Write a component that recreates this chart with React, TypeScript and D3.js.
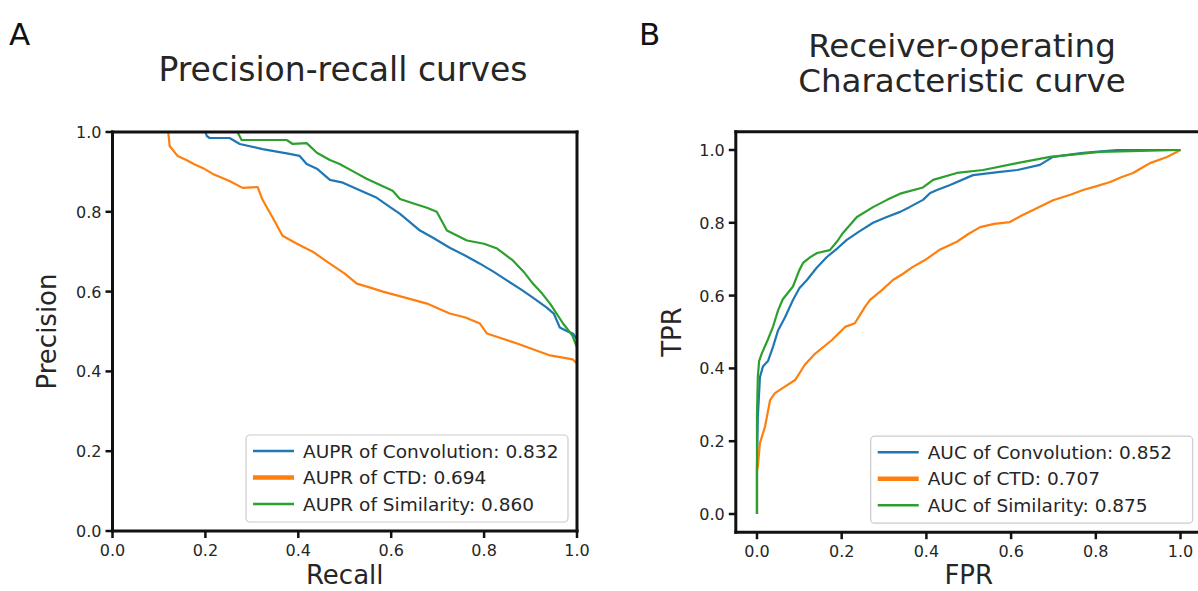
import React from "react";
import * as d3 from "d3";

// ---------- data ----------
const ticks = [0, 0.2, 0.4, 0.6, 0.8, 1.0];
const tickLabels = ["0.0", "0.2", "0.4", "0.6", "0.8", "1.0"];

const seriesNames = ["Convolution", "CTD", "Similarity"];
const seriesColors = ["#1f77b4", "#ff7f0e", "#2ca02c"];
const auprValues = ["0.832", "0.694", "0.860"];
const aucValues = ["0.852", "0.707", "0.875"];

// Precision-recall curves
const prRecallConv = [0.2, 0.203, 0.209, 0.252, 0.274, 0.323, 0.381, 0.403, 0.418, 0.44, 0.468, 0.496, 0.53, 0.569, 0.6, 0.619, 0.662, 0.69, 0.726, 0.76, 0.791, 0.82, 0.849, 0.88, 0.905, 0.935, 0.95, 0.963, 0.98, 0.991, 1.0];
const prPrecConv = [1.0, 0.99, 0.985, 0.985, 0.97, 0.957, 0.945, 0.94, 0.92, 0.908, 0.88, 0.873, 0.855, 0.835, 0.81, 0.795, 0.753, 0.735, 0.71, 0.69, 0.67, 0.65, 0.628, 0.605, 0.585, 0.56, 0.545, 0.51, 0.5, 0.495, 0.48];

const prRecallCTD = [0.12, 0.123, 0.14, 0.159, 0.175, 0.194, 0.216, 0.252, 0.28, 0.3125, 0.323, 0.345, 0.366, 0.397, 0.431, 0.468, 0.5, 0.526, 0.555, 0.582, 0.63, 0.677, 0.726, 0.76, 0.791, 0.806, 0.871, 0.942, 0.991, 1.0];
const prPrecCTD = [1.0, 0.965, 0.94, 0.93, 0.92, 0.91, 0.895, 0.877, 0.86, 0.862, 0.83, 0.785, 0.74, 0.72, 0.7, 0.67, 0.645, 0.62, 0.61, 0.6, 0.585, 0.57, 0.545, 0.535, 0.52, 0.495, 0.47, 0.44, 0.43, 0.42];

const prRecallSim = [0.269, 0.278, 0.33, 0.375, 0.388, 0.418, 0.44, 0.468, 0.489, 0.52, 0.547, 0.575, 0.603, 0.619, 0.65, 0.677, 0.698, 0.72, 0.763, 0.8, 0.828, 0.862, 0.885, 0.905, 0.925, 0.942, 0.97, 0.99, 1.0];
const prPrecSim = [1.0, 0.98, 0.98, 0.98, 0.97, 0.972, 0.948, 0.93, 0.92, 0.9, 0.883, 0.868, 0.853, 0.832, 0.82, 0.81, 0.8, 0.753, 0.728, 0.72, 0.708, 0.678, 0.65, 0.62, 0.595, 0.57, 0.52, 0.49, 0.46];

// ROC curves
const rocFprConv = [0, 0, 0.002, 0.007, 0.014, 0.026, 0.038, 0.05, 0.066, 0.085, 0.1, 0.118, 0.14, 0.165, 0.19, 0.212, 0.24, 0.274, 0.305, 0.338, 0.36, 0.392, 0.409, 0.425, 0.456, 0.51, 0.574, 0.615, 0.668, 0.699, 0.77, 0.85, 1.0];
const rocTprConv = [0, 0.13, 0.266, 0.376, 0.405, 0.42, 0.46, 0.505, 0.54, 0.588, 0.62, 0.643, 0.675, 0.706, 0.73, 0.753, 0.775, 0.8, 0.815, 0.83, 0.843, 0.863, 0.882, 0.89, 0.904, 0.931, 0.94, 0.945, 0.959, 0.981, 0.992, 1.0, 1.0];

const rocFprCTD = [0, 0, 0.002, 0.007, 0.019, 0.031, 0.0425, 0.066, 0.09, 0.113, 0.137, 0.177, 0.208, 0.231, 0.255, 0.267, 0.295, 0.321, 0.345, 0.368, 0.4, 0.43, 0.472, 0.5, 0.527, 0.56, 0.597, 0.625, 0.652, 0.699, 0.74, 0.77, 0.8, 0.834, 0.86, 0.888, 0.91, 0.928, 0.968, 1.0];
const rocTprCTD = [0, 0.12, 0.13, 0.195, 0.24, 0.313, 0.332, 0.35, 0.368, 0.41, 0.44, 0.478, 0.514, 0.524, 0.569, 0.588, 0.615, 0.643, 0.66, 0.679, 0.7, 0.725, 0.748, 0.77, 0.788, 0.797, 0.802, 0.82, 0.835, 0.862, 0.877, 0.89, 0.9, 0.912, 0.925, 0.937, 0.952, 0.964, 0.981, 1.0];

const rocFprSim = [0, 0, 0.002, 0.005, 0.011, 0.026, 0.038, 0.05, 0.061, 0.085, 0.1, 0.109, 0.125, 0.142, 0.172, 0.19, 0.203, 0.236, 0.274, 0.307, 0.338, 0.392, 0.416, 0.472, 0.534, 0.614, 0.692, 0.81, 1.0];
const rocTprSim = [0, 0.27, 0.376, 0.42, 0.44, 0.48, 0.515, 0.56, 0.59, 0.625, 0.67, 0.69, 0.705, 0.717, 0.725, 0.75, 0.772, 0.816, 0.843, 0.863, 0.88, 0.897, 0.918, 0.937, 0.945, 0.964, 0.981, 0.995, 1.0];

const prX = [prRecallConv, prRecallCTD, prRecallSim];
const prY = [prPrecConv, prPrecCTD, prPrecSim];
const rocX = [rocFprConv, rocFprCTD, rocFprSim];
const rocY = [rocTprConv, rocTprCTD, rocTprSim];

const FONT = "DejaVu Sans, sans-serif";
const TEXT = "#262626";

type PanelProps = {
  xDomain: [number, number];
  yDomain: [number, number];
  xRange: [number, number];
  yRange: [number, number];
  xs: number[][];
  ys: number[][];
  legendLabels: string[];
  xLabel: string;
  yLabel: string;
  yLabelX: number;
  showRight: boolean;
};

function Panel(p: PanelProps) {
  const x = d3.scaleLinear().domain(p.xDomain).range(p.xRange);
  const y = d3.scaleLinear().domain(p.yDomain).range(p.yRange);
  const [x0, x1] = p.xRange;
  const [y0, y1] = p.yRange; // y0 bottom, y1 top
  const line = d3
    .line<[number, number]>()
    .x((d) => x(d[0]))
    .y((d) => y(d[1]));

  const legW = 322;
  const legH = 87;
  const legRight = x1 - 9;
  const legBottom = y0 - 9;
  const legLeft = legRight - legW;
  const legTop = legBottom - legH;

  return (
    <g>
      {p.xs.map((xs, i) => (
        <path
          key={i}
          d={line(xs.map((v, j) => [v, p.ys[i][j]] as [number, number])) || ""}
          fill="none"
          stroke={seriesColors[i]}
          strokeWidth={2.2}
          strokeLinejoin="round"
        />
      ))}
      {/* spines */}
      <line x1={x0} x2={x0} y1={y0 + 1.5} y2={y1 - 1.5} stroke="#111" strokeWidth={3} />
      <line x1={x0 - 1.5} x2={x1 + 1.5} y1={y0} y2={y0} stroke="#111" strokeWidth={3} />
      <line x1={x0 - 1.5} x2={x1 + 1.5} y1={y1} y2={y1} stroke="#111" strokeWidth={3} />
      {p.showRight && (
        <line x1={x1} x2={x1} y1={y0 + 1.5} y2={y1 - 1.5} stroke="#111" strokeWidth={3} />
      )}
      {/* x ticks */}
      {ticks.map((t, i) => (
        <g key={"xt" + i}>
          <line x1={x(t)} x2={x(t)} y1={y0} y2={y0 + 7} stroke="#111" strokeWidth={2.5} />
          <text x={x(t)} y={y0 + 25} textAnchor="middle" fontFamily={FONT} fontSize={16} fill={TEXT}>
            {tickLabels[i]}
          </text>
        </g>
      ))}
      {/* y ticks */}
      {ticks.map((t, i) => (
        <g key={"yt" + i}>
          <line x1={x0 - 7} x2={x0} y1={y(t)} y2={y(t)} stroke="#111" strokeWidth={2.5} />
          <text x={x0 - 11} y={y(t) + 6} textAnchor="end" fontFamily={FONT} fontSize={16} fill={TEXT}>
            {tickLabels[i]}
          </text>
        </g>
      ))}
      {/* axis labels */}
      <text
        x={(x0 + x1) / 2}
        y={584}
        textAnchor="middle"
        fontFamily={FONT}
        fontSize={26}
        fill={TEXT}
      >
        {p.xLabel}
      </text>
      <text
        transform={`translate(${p.yLabelX},${(y0 + y1) / 2}) rotate(-90)`}
        textAnchor="middle"
        fontFamily={FONT}
        fontSize={26}
        fill={TEXT}
      >
        {p.yLabel}
      </text>
      {/* legend */}
      <rect
        x={legLeft}
        y={legTop}
        width={legW}
        height={legH}
        rx={4}
        fill="white"
        fillOpacity={0.85}
        stroke="#cccccc"
        strokeWidth={1.2}
      />
      {p.legendLabels.map((lab, i) => {
        const cy = legTop + 16 + i * 26.5;
        return (
          <g key={"lg" + i}>
            <line
              x1={legLeft + 7}
              x2={legLeft + 48}
              y1={cy}
              y2={cy}
              stroke={seriesColors[i]}
              strokeWidth={i === 1 ? 4.5 : 2.6}
            />
            <text x={legLeft + 57} y={cy + 6.5} fontFamily={FONT} fontSize={18.5} fill={TEXT}>
              {lab}
            </text>
          </g>
        );
      })}
    </g>
  );
}

export default function App() {
  const prLegend = seriesNames.map((n, i) => `AUPR of ${n}: ${auprValues[i]}`);
  const rocLegend = seriesNames.map((n, i) => `AUC of ${n}: ${aucValues[i]}`);
  return (
    <svg
      width={1198}
      height={591}
      style={{ position: "absolute", left: 0, top: 0, background: "white" }}
    >
      <rect width={1198} height={591} fill="white" />
      <text x={9} y={45} fontFamily={FONT} fontSize={31} fill="#111">A</text>
      <text x={639} y={45} fontFamily={FONT} fontSize={31} fill="#111">B</text>
      <text x={343} y={81} textAnchor="middle" fontFamily={FONT} fontSize={33} fill={TEXT}>
        Precision-recall curves
      </text>
      <text x={962} y={57} textAnchor="middle" fontFamily={FONT} fontSize={32.5} fill={TEXT}>
        Receiver-operating
      </text>
      <text x={962} y={92} textAnchor="middle" fontFamily={FONT} fontSize={32.5} fill={TEXT}>
        Characteristic curve
      </text>
      <Panel
        xDomain={[0, 1]}
        yDomain={[0, 1]}
        xRange={[112.5, 577]}
        yRange={[531, 132]}
        xs={prX}
        ys={prY}
        legendLabels={prLegend}
        xLabel="Recall"
        yLabel="Precision"
        yLabelX={56}
        showRight={true}
      />
      <Panel
        xDomain={[-0.05, 1.05]}
        yDomain={[-0.05, 1.05]}
        xRange={[735.8, 1201.7]}
        yRange={[532.2, 131.8]}
        xs={rocX}
        ys={rocY}
        legendLabels={rocLegend}
        xLabel="FPR"
        yLabel="TPR"
        yLabelX={681}
        showRight={false}
      />
    </svg>
  );
}
